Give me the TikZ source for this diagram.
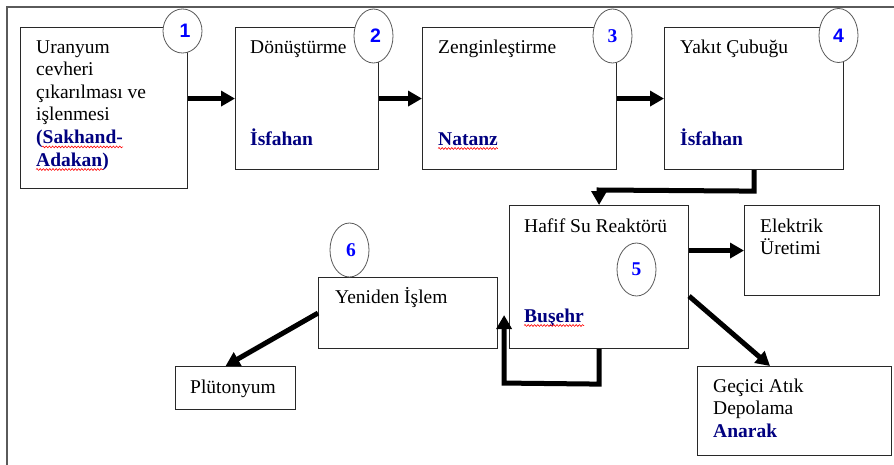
\documentclass[tikz,border=0pt]{standalone}
\usepackage{fontspec}
\setmainfont{Liberation Serif}
\newfontfamily\numsans{Liberation Sans}
\usetikzlibrary{arrows.meta,shapes.geometric,decorations.pathmorphing,calc}
\definecolor{navytxt}{RGB}{0,0,128}
\definecolor{numblue}{RGB}{0,0,255}
\definecolor{framegray}{RGB}{90,90,90}
\definecolor{boxline}{RGB}{40,40,40}
\begin{document}
\begin{tikzpicture}[x=1pt,y=-1pt,
  box/.style={draw=boxline,line width=1.1pt,rectangle,inner sep=0pt,anchor=north west},
  txt/.style={anchor=base west,inner sep=0pt,font=\fontsize{19.5}{22.6}\selectfont},
  loc/.style={txt,font=\fontsize{19.5}{22.6}\selectfont\bfseries,text=navytxt},
  numc/.style={draw=framegray,line width=0.8pt,ellipse,fill=white,inner sep=0pt,minimum width=39pt,minimum height=54pt,text=numblue,font=\fontsize{19.5}{22}\selectfont\bfseries},
  arr/.style={line width=5pt,-{Triangle[length=14pt,width=15pt]}},
  squig/.style={red,line width=0.6pt,decorate,decoration={snake,amplitude=0.9pt,segment length=3.2pt}}
]
\useasboundingbox (0,0) rectangle (894,464);
\fill[white] (0,0) rectangle (894,464);
% outer frame
\draw[framegray,line width=1.6pt] (7,470) -- (7,7) -- (900,7);

% boxes
\node[box,minimum width=167pt,minimum height=161pt] (b1) at (20,27) {};
\node[box,minimum width=143pt,minimum height=142pt] (b2) at (235,27) {};
\node[box,minimum width=194pt,minimum height=142pt] (b3) at (422,27) {};
\node[box,minimum width=179pt,minimum height=142pt] (b4) at (664,27) {};
\node[box,minimum width=179pt,minimum height=143pt] (b5) at (509,205) {};
\node[box,minimum width=135pt,minimum height=90pt] (el) at (744,205) {};
\node[box,minimum width=194pt,minimum height=89pt] (ge) at (697,366) {};
\node[box,minimum width=179pt,minimum height=71pt] (b6) at (318,277) {};
\node[box,minimum width=120pt,minimum height=43pt] (pl) at (175,366) {};

% texts box 1
\node[txt] (t1a) at (36,53) {Uranyum};
\node[txt] (t1b) at (36,75.6) {cevheri};
\node[txt] (t1c) at (36,98.2) {çıkarılması ve};
\node[txt] (t1d) at (36,120.8) {işlenmesi};
\node[loc] (t1e) at (36,143.4) {(Sakhand-};
\node[loc] (t1f) at (36,166) {Adakan)};
% box 2
\node[txt] (t2a) at (250,53) {Dönüştürme};
\node[loc] (t2b) at (250,145) {İsfahan};
% box 3
\node[txt] (t3a) at (438,53) {Zenginleştirme};
\node[loc] (t3b) at (438,145) {Natanz};
% box 4
\node[txt] (t4a) at (680,53) {Yakıt Çubuğu};
\node[loc] (t4b) at (680,145) {İsfahan};
% box 5
\node[txt] (t5a) at (524,232) {Hafif Su Reaktörü};
\node[loc] (t5b) at (524,322) {Buşehr};
% elektrik
\node[txt] (tea) at (760,232) {Elektrik};
\node[txt] (teb) at (760,254.6) {Üretimi};
% gecici
\node[txt] (tga) at (713,392) {Geçici Atık};
\node[txt] (tgb) at (713,414.6) {Depolama};
\node[loc] (tgc) at (713,437.2) {Anarak};
% yeniden
\node[txt] (t6a) at (335,303) {Yeniden İşlem};
% plutonyum
\node[txt] (tpa) at (190,393) {Plütonyum};

% spell-check underlines
\draw[squig] ([xshift=6pt,yshift=-3.5pt]t1e.base west) -- ([yshift=-3.5pt]t1e.base east);
\draw[squig] ([yshift=-3.5pt]t1f.base west) -- ([xshift=-6pt,yshift=-3.5pt]t1f.base east);
\draw[squig] ([yshift=-3.5pt]t3b.base west) -- ([yshift=-3.5pt]t3b.base east);
\draw[squig] ([yshift=-3.5pt]t5b.base west) -- ([yshift=-3.5pt]t5b.base east);

% number ellipses
\node[numc,minimum height=44pt] (c1) at (182.5,31) {\numsans\raisebox{-2pt}{\hspace{5pt}1}};
\node[numc] (c2) at (373.5,36) {\numsans\hspace{4pt}2};
\node[numc] (c3) at (612.5,36) {3};
\node[numc] (c4) at (838.5,35.5) {\numsans 4};
\node[numc,minimum height=53pt] (c5) at (636.5,269.5) {5};
\node[numc] (c6) at (349.5,250) {\hspace{3pt}6};

% connectors
\draw[arr] (b1.east|-b2.west) -- (b2.west);
\draw[arr] (b2.east) -- (b3.west);
\draw[arr] (b3.east) -- (b4.west);
\draw[arr] (b4.south) -- ($(b4.south)+(0,21)$) -- ($(b5.north)+(0,-15)$) -- (b5.north);
\draw[arr] (b5.east|-el.west) -- (el.west);
\draw[arr] ($(b5.south east)+(0,-53)$) -- ($(ge.north west)+(73,0)$);
\draw[arr] (b6.west) -- ($(pl.north)+(-10,0)$);
\draw[arr] (b5.south) -- ($(b5.south)+(0,35)$) -- ($(b6.east)+(6,70)$) -- ($(b6.east)+(6,2)$);
\end{tikzpicture}
\end{document}
